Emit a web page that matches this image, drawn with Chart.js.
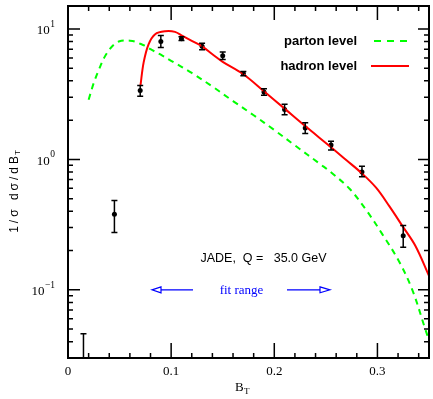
<!DOCTYPE html>
<html>
<head>
<meta charset="utf-8">
<script src="https://cdn.jsdelivr.net/npm/chart.js@4"></script>
<style>
  body { margin: 0; background: #fff; }
</style>
</head>
<body>
<canvas id="my-chart" width="433" height="399"></canvas>
<script>
// JADE data points, Q = 35 GeV
const dataX = [0.015, 0.045, 0.07, 0.09, 0.11, 0.13, 0.15, 0.17, 0.19, 0.21, 0.23, 0.255, 0.285, 0.325];
const dataY = [0.01, 0.38, 3.37, 8.03, 8.43, 7.36, 6.24, 4.55, 3.29, 2.41, 1.74, 1.29, 0.80, 0.26];
const errHi = [0.046, 0.483, 3.68, 8.9, 8.7, 7.76, 6.67, 4.72, 3.48, 2.65, 1.91, 1.38, 0.887, 0.311];
const errLo = [0.005, 0.275, 3.05, 7.22, 8.15, 6.93, 5.82, 4.38, 3.1, 2.2, 1.58, 1.18, 0.735, 0.212];

// parton level curve
const partonX = [0.02, 0.025, 0.03, 0.035, 0.04, 0.045, 0.05, 0.055, 0.06, 0.065, 0.07, 0.075, 0.08, 0.09, 0.10, 0.12, 0.14, 0.16, 0.18, 0.20, 0.22, 0.2445, 0.2555, 0.273, 0.289, 0.305, 0.321, 0.334, 0.3465, 0.35];
const partonY = [2.87, 3.86, 4.88, 6.0, 6.93, 7.65, 8.05, 8.15, 8.13, 8.0, 7.7, 7.41, 7.0, 6.35, 5.7, 4.6, 3.62, 2.8, 2.18, 1.68, 1.28, 0.92, 0.79, 0.595, 0.41, 0.265, 0.165, 0.099, 0.0496, 0.041];

// hadron level curve
const hadronX = [0.0702, 0.0733, 0.0781, 0.0845, 0.0941, 0.1037, 0.111, 0.12, 0.13, 0.14, 0.15, 0.17, 0.19, 0.21, 0.23, 0.255, 0.27, 0.2843, 0.2987, 0.3115, 0.3243, 0.337, 0.35];
const hadronY = [3.65, 5.52, 7.63, 9.12, 9.6, 9.5, 8.84, 8.1, 7.35, 6.4, 5.6, 4.5, 3.33, 2.45, 1.8, 1.24, 0.985, 0.79, 0.607, 0.438, 0.308, 0.216, 0.128];

const xTicks = [0, 0.1, 0.2, 0.3];
const xTickLabels = ['0', '0.1', '0.2', '0.3'];
const yDecades = [-1, 0, 1];

const toPts = (xs, ys) => xs.map((x, i) => ({ x: x, y: ys[i] }));

const SERIF = '"Liberation Serif", "DejaVu Serif", serif';
const SANS = '"Liberation Sans", Arial, sans-serif';

function drawFit(ctx, text, x, y, w) {
  // draw text centred at x, squeezed to width w
  const m = ctx.measureText(text).width;
  ctx.save();
  ctx.translate(x, y);
  ctx.scale(w / m, 1);
  ctx.textAlign = 'center';
  ctx.fillText(text, 0, 0);
  ctx.restore();
}

const errorBars = {
  id: 'errorBars',
  afterDatasetsDraw(chart) {
    const { ctx, chartArea: a, scales: { x, y } } = chart;
    ctx.save();
    ctx.beginPath();
    ctx.rect(a.left, a.top, a.right - a.left, a.bottom - a.top);
    ctx.clip();
    ctx.strokeStyle = '#000';
    ctx.lineWidth = 1.5;
    dataX.forEach((v, i) => {
      const px = x.getPixelForValue(v);
      const top = y.getPixelForValue(errHi[i]);
      const bot = y.getPixelForValue(errLo[i]);
      ctx.beginPath();
      ctx.moveTo(px, top); ctx.lineTo(px, bot);
      ctx.moveTo(px - 3, top); ctx.lineTo(px + 3, top);
      ctx.moveTo(px - 3, bot); ctx.lineTo(px + 3, bot);
      ctx.stroke();
    });
    ctx.restore();
  }
};

const frame = {
  id: 'frame',
  afterDraw(chart) {
    const { ctx, chartArea: a, scales: { x, y } } = chart;
    ctx.save();
    ctx.strokeStyle = '#000';
    ctx.fillStyle = '#000';

    // box
    ctx.lineWidth = 2;
    ctx.strokeRect(a.left, a.top, a.right - a.left, a.bottom - a.top);

    // x ticks, inward on top and bottom
    ctx.lineWidth = 1.5;
    ctx.beginPath();
    for (let k = 0; k <= 17; k++) {
      const px = x.getPixelForValue(k * 0.02);
      if (px > a.right - 1) continue;
      const major = k % 5 === 0;
      ctx.moveTo(px, a.bottom); ctx.lineTo(px, a.bottom - (major ? 15 : 5));
      ctx.moveTo(px, a.top); ctx.lineTo(px, a.top + (major ? 14 : 5));
    }
    // y ticks, inward on left and right
    for (let d = -2; d <= 1; d++) {
      for (let m = 1; m <= 9; m++) {
        const v = m * Math.pow(10, d);
        if (v < y.min || v > y.max) continue;
        const py = y.getPixelForValue(v);
        const len = m === 1 ? 12 : 5;
        ctx.moveTo(a.left, py); ctx.lineTo(a.left + len, py);
        ctx.moveTo(a.right, py); ctx.lineTo(a.right - (m === 1 ? 11 : 5), py);
      }
    }
    ctx.stroke();

    // x tick labels
    ctx.font = '13px ' + SERIF;
    ctx.textAlign = 'center';
    ctx.textBaseline = 'middle';
    xTicks.forEach((v, i) => {
      ctx.fillText(xTickLabels[i], x.getPixelForValue(v), 372);
    });

    // y tick labels 10^n
    yDecades.forEach(d => {
      const py = y.getPixelForValue(Math.pow(10, d));
      const exp = d < 0 ? '\u2212' + (-d) : String(d);
      ctx.font = '9.5px ' + SERIF;
      const ew = ctx.measureText(exp).width;
      ctx.textAlign = 'left';
      ctx.fillText(exp, 55 - ew, py - 4.5);
      ctx.font = '13px ' + SERIF;
      ctx.textAlign = 'right';
      ctx.fillText('10', 55 - ew - 0.5, py + 2);
    });

    // x title B_T
    ctx.textAlign = 'left';
    ctx.font = '13px ' + SERIF;
    ctx.fillText('B', 235, 388);
    ctx.font = '9px ' + SERIF;
    ctx.fillText('T', 244, 392);

    // y title 1/σ dσ/dB_T
    ctx.save();
    ctx.translate(15, 189);
    ctx.rotate(-Math.PI / 2);
    ctx.letterSpacing = '3px';
    ctx.font = '12px ' + SANS;
    const main = '1/\u03c3 d\u03c3/dB';
    const mw = ctx.measureText(main).width;
    ctx.font = '8px ' + SANS;
    const sw = ctx.measureText('T').width;
    const x0 = -(mw + sw) / 2;
    ctx.font = '12px ' + SANS;
    ctx.textAlign = 'left';
    ctx.fillText(main, x0, 0);
    ctx.font = '8px ' + SANS;
    ctx.fillText('T', x0 + mw - 2, 3);
    ctx.restore();

    // legend
    ctx.font = 'bold 13px ' + SANS;
    ctx.textAlign = 'right';
    ctx.fillText('parton level', 357, 41);
    ctx.fillText('hadron level', 357, 66);
    ctx.lineWidth = 2;
    ctx.strokeStyle = '#00ff00';
    ctx.setLineDash([7, 6]);
    ctx.beginPath(); ctx.moveTo(374, 41); ctx.lineTo(410, 41); ctx.stroke();
    ctx.setLineDash([]);
    ctx.strokeStyle = '#ff0000';
    ctx.beginPath(); ctx.moveTo(371, 66); ctx.lineTo(409, 66); ctx.stroke();

    // annotation
    ctx.fillStyle = '#000';
    ctx.font = '13px ' + SANS;
    ctx.textBaseline = 'middle';
    drawFit(ctx, 'JADE,  Q =   35.0 GeV', 263.5, 258, 126);

    // fit range
    ctx.fillStyle = '#0000ff';
    ctx.strokeStyle = '#0000ff';
    ctx.lineWidth = 1.2;
    ctx.font = '13px ' + SERIF;
    ctx.textAlign = 'center';
    ctx.fillText('fit range', 241.5, 291);
    const ay = y.getPixelForValue(0.1);
    ctx.beginPath();
    ctx.moveTo(161, ay); ctx.lineTo(193, ay);
    ctx.moveTo(287, ay); ctx.lineTo(320, ay);
    ctx.stroke();
    ctx.beginPath();
    ctx.moveTo(152, ay); ctx.lineTo(161, ay - 3); ctx.lineTo(161, ay + 3); ctx.closePath();
    ctx.moveTo(330, ay); ctx.lineTo(320, ay - 3); ctx.lineTo(320, ay + 3); ctx.closePath();
    ctx.fillStyle = '#fff';
    ctx.fill();
    ctx.stroke();

    ctx.restore();
  }
};

const ctx = document.getElementById('my-chart').getContext('2d');
new Chart(ctx, {
  type: 'scatter',
  data: {
    datasets: [
      {
        label: 'parton level',
        data: toPts(partonX, partonY),
        showLine: true,
        borderColor: '#00ff00',
        borderWidth: 2,
        borderDash: [6, 5],
        pointRadius: 0,
        tension: 0.35
      },
      {
        label: 'hadron level',
        data: toPts(hadronX, hadronY),
        showLine: true,
        borderColor: '#ff0000',
        borderWidth: 2,
        pointRadius: 0,
        tension: 0.35
      },
      {
        label: 'JADE',
        data: toPts(dataX, dataY),
        showLine: false,
        backgroundColor: '#000',
        borderWidth: 0,
        pointRadius: 2.5
      }
    ]
  },
  options: {
    responsive: false,
    animation: false,
    layout: { padding: { left: 68, right: 1, top: 6, bottom: 41 } },
    scales: {
      x: { type: 'linear', min: 0, max: 0.35, display: false },
      y: { type: 'logarithmic', min: 0.03, max: 15, display: false }
    },
    plugins: { legend: { display: false }, tooltip: { enabled: false } }
  },
  plugins: [errorBars, frame]
});
</script>
</body>
</html>
